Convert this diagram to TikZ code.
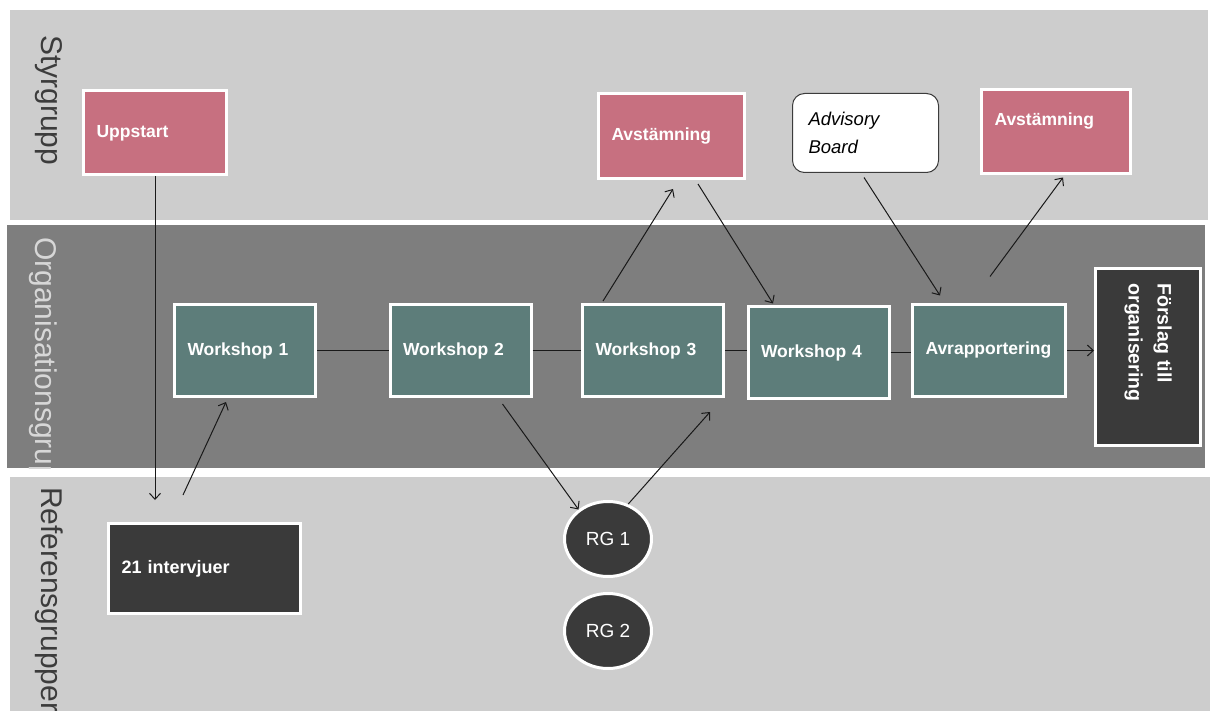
\documentclass[tikz,border=0pt]{standalone}
\usepackage{fontspec}
\setmainfont{Liberation Sans}
\usetikzlibrary{arrows.meta,calc,shapes.geometric}
\definecolor{lightband}{RGB}{205,205,205}
\definecolor{darkband}{RGB}{126,126,126}
\definecolor{pinkfill}{RGB}{199,112,128}
\definecolor{tealfill}{RGB}{93,125,122}
\definecolor{darkfill}{RGB}{58,58,58}
\definecolor{lanedark}{RGB}{60,60,60}
\definecolor{lanelight}{RGB}{215,215,215}
\definecolor{conncol}{RGB}{25,25,25}
\tikzset{
  box/.style={draw=white, line width=3pt, inner xsep=13pt, inner ysep=0pt, text=white,
    font=\fontsize{17.5}{20}\selectfont\bfseries, align=left},
  pinkbox/.style={box, fill=pinkfill},
  tealbox/.style={box, fill=tealfill, minimum width=141pt, minimum height=92pt, text width=115pt},
  darkbox/.style={box, fill=darkfill},
  rgnode/.style={ellipse, draw=white, line width=3pt, fill=darkfill, text=white,
    font=\fontsize{19}{22}\selectfont, minimum width=87pt, minimum height=75pt, inner sep=0pt},
  lanelabel/.style={rotate=-90, anchor=base west, inner sep=0pt, font=\fontsize{30}{36}\selectfont},
  connline/.style={draw=conncol, line width=1pt},
  arr/.style={connline, -{Straight Barb[length=6pt,width=11pt]}}
}
\begin{document}
\begin{tikzpicture}[x=1pt,y=-1pt]
\useasboundingbox[fill=white] (0,0) rectangle (1214,711);
% bands
\fill[lightband] (10,10) rectangle (1208,220);
\fill[darkband] (7,225) rectangle (1205,468);
\fill[lightband] (10,477) rectangle (1210,711);
% lane labels
\begin{scope}
  \clip (10,10) rectangle (1208,220);
  \node[lanelabel, text=lanedark] (lsty) at (41.5,35) {Styrgrupp};
\end{scope}
\begin{scope}
  \clip (7,225) rectangle (1205,468);
  \node[lanelabel, text=lanelight] (lorg) at (35,237) {Organisationsgrupp};
\end{scope}
\begin{scope}
  \clip (10,477) rectangle (1210,711);
  \node[lanelabel, text=lanedark] (lref) at (41.5,487) {Referensgrupper};
\end{scope}
% Styrgrupp nodes
\node[pinkbox, minimum width=143pt, minimum height=84pt, text width=117pt] (ups) at (155,133) {Uppstart};
\node[pinkbox, minimum width=146pt, minimum height=85pt, text width=120pt] (av1) at (671.5,136) {Avstämning};
\node[pinkbox, minimum width=149pt, minimum height=84pt, text width=123pt] (av2) at (1056,131.5) {\raisebox{10pt}[\height][\depth]{Avstämning}};
\node[draw=lanedark, line width=1pt, fill=white, rounded corners=12pt, minimum width=146pt,
  minimum height=79pt, text width=114pt, inner xsep=16pt, inner ysep=0pt, align=left,
  font=\fontsize{18.5}{28}\selectfont\itshape] (adv) at (865.5,133) {Advisory\\Board};
% Organisationsgrupp nodes
\node[tealbox] (w1) at (245,350.5) {Workshop 1};
\node[tealbox] (w2) at (460.5,350.5) {Workshop 2};
\node[tealbox] (w3) at (653,350.5) {Workshop 3};
\node[tealbox] (w4) at (818.5,352.5) {Workshop 4};
\node[tealbox, minimum width=153pt, text width=127pt] (avr) at (989,350.5) {Avrapportering};
\node[darkbox, rotate=-90, minimum width=177pt, minimum height=105pt, text width=147pt,
  inner xsep=15pt, font=\fontsize{19.5}{29}\selectfont\bfseries] (fors) at (1148,357) {Förslag till\\organisering};
% Referensgrupper nodes
\node[darkbox, minimum width=192pt, minimum height=90pt, text width=166pt, font=\fontsize{18}{20}\selectfont\bfseries] (intv) at (204.5,568.5) {21 intervjuer};
\node[rgnode] (rg1) at (608,539) {RG 1};
\node[rgnode] (rg2) at (608,631) {RG 2};
% connectors
\coordinate (a1) at (155,500);
\coordinate (i1) at (183,495);
\draw[arr] (ups.south) -- (a1);
\draw[arr] (i1) -- ($(w1.south)+(-19,4)$);
\draw[connline] (w1.east) -- (w2.west);
\draw[connline] (w2.east) -- (w3.west);
\draw[connline] (w3.east) -- (w3.east -| w4.west);
\draw[connline] (w4.east) -- (w4.east -| avr.west);
\draw[arr] (avr.east) -- (avr.east -| fors.south);
\draw[arr] ($(w2.south)+(42,6)$) -- (rg1.135);
\draw[arr] (rg1.60) -- ($(w3.south)+(57,14)$);
\draw[arr] ($(w3.north)+(-50,-2)$) -- ($(av1.south)+(1.5,9)$);
\draw[arr] ($(av1.south)+(26.5,4)$) -- ($(w4.north)+(-45.5,-1.5)$);
\draw[arr] ($(adv.south)+(-1.5,4.5)$) -- ($(avr.north)+(-49,-7.5)$);
\draw[arr] ($(avr.north)+(1,-26.5)$) -- ($(av2.south)+(7,2.5)$);
\end{tikzpicture}
\end{document}
